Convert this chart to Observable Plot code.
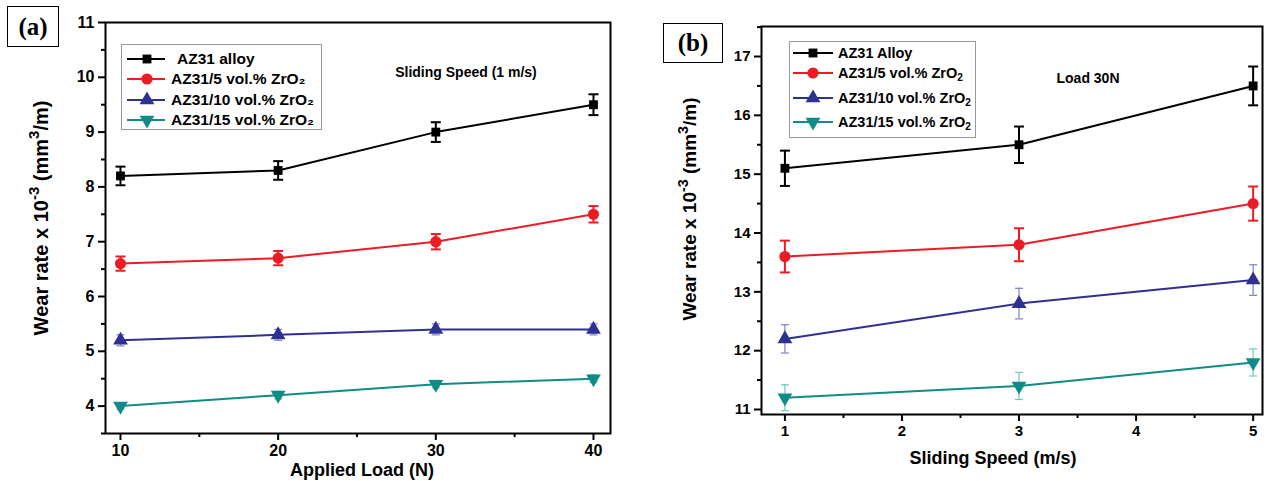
<!DOCTYPE html>
<html><head><meta charset="utf-8">
<script src="https://cdn.jsdelivr.net/npm/d3@7"></script>
<script src="https://cdn.jsdelivr.net/npm/@observablehq/plot@0.6"></script>
<style>
html,body{margin:0;padding:0;background:#fff;}
#root{position:relative;width:1266px;height:481px;overflow:hidden;font-family:"Liberation Sans",Arial,sans-serif;font-weight:bold;color:#000;}
.panel{position:absolute;top:0;}
.tag{position:absolute;box-sizing:border-box;border:1.5px solid #000;font-family:"Liberation Serif","Times New Roman",serif;font-weight:bold;font-size:25px;display:flex;align-items:center;justify-content:center;background:#fff;}
.legend{position:absolute;box-sizing:border-box;border:1px solid #999;background:#fff;}
.legend .row{position:absolute;left:0;display:flex;align-items:center;white-space:nowrap;}
.legend svg{display:block;}
.note{position:absolute;white-space:nowrap;transform:translate(-50%,-50%);}
.xlab{position:absolute;white-space:nowrap;transform:translate(-50%,-50%);font-size:18px;}
.ylab{position:absolute;white-space:nowrap;transform:translate(-50%,-50%) rotate(-90deg);font-size:18px;}
sup{font-size:75%;vertical-align:0.55em;line-height:0;}
sub{font-size:70%;vertical-align:-0.3em;line-height:0;}
</style>
</head><body>
<div id="root"></div>
<script>
// ---------------- data ----------------
const seriesA = ["AZ31 alloy", "AZ31/5 vol.% ZrO₂", "AZ31/10 vol.% ZrO₂", "AZ31/15 vol.% ZrO₂"];
const seriesB = ["AZ31 Alloy", "AZ31/5 vol.% ZrO2", "AZ31/10 vol.% ZrO2", "AZ31/15 vol.% ZrO2"];

const loadA = [10, 20, 30, 40];
const a_az31 = [8.2, 8.3, 9.0, 9.5];
const a_az31_err = [0.17, 0.17, 0.18, 0.19];
const a_zr5 = [6.6, 6.7, 7.0, 7.5];
const a_zr5_err = [0.13, 0.13, 0.14, 0.15];
const a_zr10 = [5.2, 5.3, 5.4, 5.4];
const a_zr10_err = [0.1, 0.1, 0.1, 0.1];
const a_zr15 = [4.0, 4.2, 4.4, 4.5];
const a_zr15_err = [0.06, 0.07, 0.07, 0.07];

const speedB = [1, 3, 5];
const b_az31 = [15.1, 15.5, 16.5];
const b_az31_err = [0.3, 0.31, 0.33];
const b_zr5 = [13.6, 13.8, 14.5];
const b_zr5_err = [0.27, 0.28, 0.29];
const b_zr10 = [12.2, 12.8, 13.2];
const b_zr10_err = [0.24, 0.26, 0.26];
const b_zr15 = [11.2, 11.4, 11.8];
const b_zr15_err = [0.22, 0.23, 0.23];

const ticksXA = [10, 20, 30, 40];
const minorXA = [15, 25, 35];
const ticksYA = [4, 5, 6, 7, 8, 9, 10, 11];
const minorYA = [3.5, 4.5, 5.5, 6.5, 7.5, 8.5, 9.5, 10.5];
const ticksXB = [1, 2, 3, 4, 5];
const minorXB = [1.5, 2.5, 3.5, 4.5];
const ticksYB = [11, 12, 13, 14, 15, 16, 17];
const minorYB = [11.5, 12.5, 13.5, 14.5, 15.5, 16.5, 17.5];

// ---------------- styles ----------------
const lineColors = ["#000000", "#ed1c24", "#2e3192", "#0f8c86"];
const errColors = ["#000000", "#ed1c24", "#7b80c4", "#6ec8c1"];
const errWidths = [2, 2, 1.2, 1.2];
const symbols = ["square", "circle", "triangle", "triangle"];
const rotations = [0, 0, 0, 180];
const radii = [5, 5.6, 5.5, 5.5];

function rows(xs, ys, es, k) {
  return xs.map((x, i) => ({x, y: ys[i], e: es[i], k}));
}
const dataA = [
  ...rows(loadA, a_az31, a_az31_err, 0),
  ...rows(loadA, a_zr5, a_zr5_err, 1),
  ...rows(loadA, a_zr10, a_zr10_err, 2),
  ...rows(loadA, a_zr15, a_zr15_err, 3)
];
const dataB = [
  ...rows(speedB, b_az31, b_az31_err, 0),
  ...rows(speedB, b_zr5, b_zr5_err, 1),
  ...rows(speedB, b_zr10, b_zr10_err, 2),
  ...rows(speedB, b_zr15, b_zr15_err, 3)
];

// horizontal cap symbol for error bars
const capSymbol = {
  draw(context, size) {
    const w = Math.sqrt(size / Math.PI);
    context.moveTo(-w, 0);
    context.lineTo(w, 0);
  }
};

function seriesMarks(data, capR) {
  const marks = [];
  for (let k = 0; k < 4; k++) {
    const d = data.filter(r => r.k === k);
    marks.push(Plot.ruleX(d, {x: "x", y1: r => r.y - r.e, y2: r => r.y + r.e, stroke: errColors[k], strokeWidth: errWidths[k]}));
    marks.push(Plot.dot(d, {x: "x", y: r => r.y - r.e, symbol: capSymbol, r: capR[k], stroke: errColors[k], strokeWidth: errWidths[k], fill: "none"}));
    marks.push(Plot.dot(d, {x: "x", y: r => r.y + r.e, symbol: capSymbol, r: capR[k], stroke: errColors[k], strokeWidth: errWidths[k], fill: "none"}));
  }
  for (let k = 0; k < 4; k++) {
    const d = data.filter(r => r.k === k);
    marks.push(Plot.line(d, {x: "x", y: "y", stroke: lineColors[k], strokeWidth: 2}));
    marks.push(Plot.dot(d, {x: "x", y: "y", symbol: symbols[k], rotate: rotations[k], r: radii[k], fill: lineColors[k], stroke: "none"}));
  }
  return marks;
}

function axisMarks(tx, mx, ty, my, fs) {
  const common = {fontSize: fs, fontWeight: "bold", label: null, strokeWidth: 2};
  return [
    Plot.axisX({...common, ticks: tx, tickSize: 7, tickPadding: 4, tickFormat: d => String(d)}),
    Plot.axisX({...common, ticks: mx, tickSize: 4, tickFormat: () => ""}),
    Plot.axisY({...common, ticks: ty, tickSize: 7, tickPadding: 4, tickFormat: d => String(d)}),
    Plot.axisY({...common, ticks: my, tickSize: 4, tickFormat: () => ""}),
    Plot.frame({stroke: "#000", strokeWidth: 2})
  ];
}

const root = document.getElementById("root");

const plotA = Plot.plot({
  width: 640, height: 481,
  marginLeft: 105, marginRight: 30, marginTop: 22, marginBottom: 48,
  x: {domain: [9.05, 41.08]},
  y: {domain: [3.5, 11]},
  style: {fontFamily: "Liberation Sans, Arial, sans-serif", color: "#000", background: "transparent", overflow: "visible"},
  marks: [
    ...seriesMarks(dataA, [5, 5, 4, 4]),
    ...axisMarks(ticksXA, minorXA, ticksYA, minorYA, 16)
  ]
});
const wrapA = document.createElement("div");
wrapA.className = "panel"; wrapA.style.left = "0px";
wrapA.appendChild(plotA);
root.appendChild(wrapA);

const plotB = Plot.plot({
  width: 626, height: 481,
  marginLeft: 121, marginRight: 4, marginTop: 26, marginBottom: 67,
  x: {domain: [0.8, 5.08]},
  y: {domain: [10.915, 17.51]},
  style: {fontFamily: "Liberation Sans, Arial, sans-serif", color: "#000", background: "transparent", overflow: "visible"},
  marks: [
    ...seriesMarks(dataB, [5, 5, 4, 4]),
    ...axisMarks(ticksXB, minorXB, ticksYB, minorYB, 15)
  ]
});
const wrapB = document.createElement("div");
wrapB.className = "panel"; wrapB.style.left = "640px";
wrapB.appendChild(plotB);
root.appendChild(wrapB);

// ---------------- annotations ----------------
function addDiv(cls, html, css) {
  const d = document.createElement("div");
  d.className = cls; d.innerHTML = html;
  Object.assign(d.style, css);
  root.appendChild(d);
  return d;
}
addDiv("tag", "(a)", {left: "7px", top: "6px", width: "52px", height: "41px"});
addDiv("tag", "(b)", {left: "663px", top: "23px", width: "60px", height: "40px"});
addDiv("note", "Sliding Speed (1 m/s)", {left: "466px", top: "72px", fontSize: "14px"});
addDiv("note", "Load 30N", {left: "1088px", top: "78px", fontSize: "14px"});
addDiv("xlab", "Applied Load (N)", {left: "362px", top: "470px"});
addDiv("xlab", "Sliding Speed (m/s)", {left: "993px", top: "458px"});
addDiv("ylab", "Wear rate x 10<sup>-3</sup> (mm<sup>3</sup>/m)", {left: "41px", top: "218px", fontSize: "20px"});
addDiv("ylab", "Wear rate x 10<sup>-3</sup> (mm<sup>3</sup>/m)", {left: "690px", top: "209px", fontSize: "19px"});

// ---------------- legends ----------------
function legend(opts) {
  const box = addDiv("legend", "", {left: opts.left + "px", top: opts.top + "px", width: opts.w + "px", height: opts.h + "px"});
  opts.names.forEach((name, k) => {
    const row = document.createElement("div");
    row.className = "row";
    row.style.top = (opts.rowY[k] - opts.top - 10) + "px";
    row.style.height = "20px";
    row.style.left = (opts.lineX0 - opts.left - 1) + "px";
    const w = opts.lineX1 - opts.lineX0;
    const sym = d3.symbol().type([d3.symbolSquare, d3.symbolCircle, d3.symbolTriangle, d3.symbolTriangle][k]).size(Math.PI * radii[k] * radii[k]);
    const svg = d3.create("svg").attr("width", w).attr("height", 20);
    svg.append("line").attr("x1", 0).attr("x2", w).attr("y1", 10).attr("y2", 10).attr("stroke", lineColors[k]).attr("stroke-width", 2);
    svg.append("path").attr("d", sym()).attr("fill", lineColors[k])
      .attr("transform", `translate(${opts.markX - opts.lineX0},10) rotate(${rotations[k]})`);
    row.appendChild(svg.node());
    const t = document.createElement("span");
    t.style.fontSize = opts.fs + "px";
    t.style.marginLeft = (opts.textX[k] - opts.lineX1) + "px";
    t.innerHTML = opts.html ? opts.html(name) : name;
    row.appendChild(t);
    box.appendChild(row);
  });
}
legend({names: seriesA, left: 121, top: 44, w: 201, h: 86, rowY: [58, 78, 99, 119],
  lineX0: 127, lineX1: 165, markX: 147, textX: [177, 171, 171, 171], fs: 15.5});
legend({names: seriesB, left: 789, top: 41, w: 187, h: 97, rowY: [52, 72, 97, 121],
  lineX0: 793, lineX1: 833, markX: 813, textX: [838, 838, 838, 838], fs: 14.5,
  html: n => n.endsWith("ZrO2") ? n.slice(0, -1) + "<sub>2</sub>" : n});
</script>
</body></html>
